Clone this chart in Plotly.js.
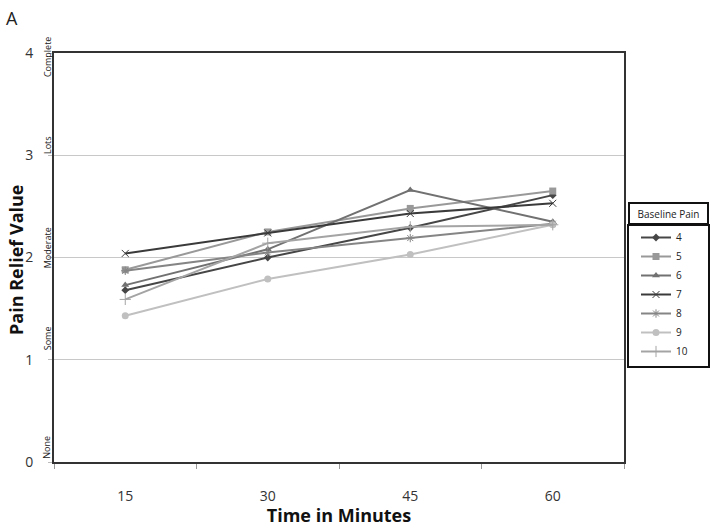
<!DOCTYPE html>
<html>
<head>
<meta charset="utf-8">
<script src="https://cdn.plot.ly/plotly-3.0.1.min.js"></script>
<style>html,body{margin:0;padding:0;background:#fff;}#chart{width:714px;height:527px;}</style>
</head>
<body>
<div id="chart"></div>
<script>
const times = ['15', '30', '45', '60'];
const seriesNames = ['4', '5', '6', '7', '8', '9', '10'];
const pain4 = [1.68, 2.00, 2.29, 2.61];
const pain5 = [1.88, 2.25, 2.48, 2.65];
const pain6 = [1.73, 2.08, 2.66, 2.35];
const pain7 = [2.04, 2.24, 2.43, 2.53];
const pain8 = [1.87, 2.05, 2.19, 2.33];
const pain9 = [1.43, 1.79, 2.03, 2.32];
const pain10 = [1.59, 2.14, 2.30, 2.32];
const yTickVals = [0, 1, 2, 3, 4];
const reliefLabels = ['None', 'Some', 'Moderate', 'Lots', 'Complete'];
const reliefLabelPos = [0.14, 1.21, 2.09, 3.10, 3.96];

const values = [pain4, pain5, pain6, pain7, pain8, pain9, pain10];
const colors = ['#464646', '#999999', '#717171', '#3a3a3a', '#858585', '#c0c0c0', '#a4a4a4'];
const symbols = ['diamond', 'square', 'triangle-up', 'x-thin', 'asterisk', 'circle', 'cross-thin'];
const sizes = [6, 7, 7, 7, 7, 7, 8];

const traces = values.map((v, i) => ({
  x: times, y: v, name: seriesNames[i], type: 'scatter', mode: 'lines+markers',
  line: {color: colors[i], width: 2},
  marker: {symbol: symbols[i], size: sizes[i], color: colors[i], line: {color: colors[i], width: (symbols[i].indexOf('thin') >= 0 || symbols[i] === 'asterisk') ? 1 : 0}}
}));

const font = '"Open Sans", "Noto Sans", sans-serif';
const annotations = reliefLabels.map((t, i) => ({
  text: t, xref: 'paper', yref: 'y', x: 0, y: reliefLabelPos[i], xshift: -7,
  textangle: -90, showarrow: false, font: {family: font, size: 9, color: '#222'},
  xanchor: 'center', yanchor: 'middle'
}));
annotations.push({text: 'A', xref: 'paper', yref: 'paper', x: (12 - 54) / 570, y: (462 - 18) / 409, showarrow: false,
  font: {family: font, size: 18, color: '#222'}, xanchor: 'center', yanchor: 'middle'});
annotations.push({text: 'Pain Relief Value', xref: 'paper', yref: 'paper', x: (16 - 54) / 570, y: (462 - 260) / 409,
  textangle: -90, showarrow: false, xanchor: 'center', yanchor: 'middle',
  font: {family: font, size: 18, color: '#111', weight: 'bold'}});
annotations.push({text: 'Baseline Pain', xref: 'paper', yref: 'paper', x: (628 - 54) / 570, y: (462 - 202) / 409,
  xanchor: 'left', yanchor: 'top', showarrow: false, width: 77, height: 19, bordercolor: '#111', borderwidth: 2, borderpad: 0,
  bgcolor: '#fff', font: {family: font, size: 10, color: '#222'}});

const layout = {
  width: 714, height: 527,
  margin: {l: 54, r: 90, t: 53, b: 65},
  paper_bgcolor: '#fff', plot_bgcolor: '#fff',
  showlegend: true,
  legend: {x: (636 - 54) / 570, y: (462 - 223) / 409, xanchor: 'left', yanchor: 'top',
    font: {family: font, size: 10, color: '#222'}, bgcolor: 'rgba(0,0,0,0)', itemwidth: 30, tracegroupgap: 0},
  xaxis: {type: 'category', categoryorder: 'array', categoryarray: times, range: [-0.5, 3.5],
    tickson: 'boundaries', ticks: 'outside', ticklen: 5, tickcolor: '#999', showgrid: false,
    showline: true, linecolor: '#333', linewidth: 2, mirror: true, zeroline: false,
    ticklabelstandoff: 20, automargin: false,
    tickfont: {family: font, size: 14, color: '#333'},
    title: {text: 'Time in Minutes', font: {family: font, size: 18, color: '#111', weight: 'bold'}, standoff: 12}},
  yaxis: {range: [0, 4], tickvals: yTickVals, ticks: 'outside', ticklen: 4, tickcolor: '#bbb',
    showgrid: true, gridcolor: '#c8c8c8', gridwidth: 1, zeroline: false,
    showline: true, linecolor: '#333', linewidth: 2, mirror: true, automargin: false,
    ticklabelstandoff: 12,
    tickfont: {family: font, size: 14, color: '#333'}},
  shapes: [{type: 'rect', xref: 'paper', yref: 'paper', x0: (628 - 54) / 570, x1: (709 - 54) / 570,
    y0: (462 - 367) / 409, y1: (462 - 225) / 409, line: {color: '#111', width: 2}}],
  annotations: annotations
};

Plotly.newPlot('chart', traces, layout, {displayModeBar: false, staticPlot: true});
</script>
</body>
</html>
